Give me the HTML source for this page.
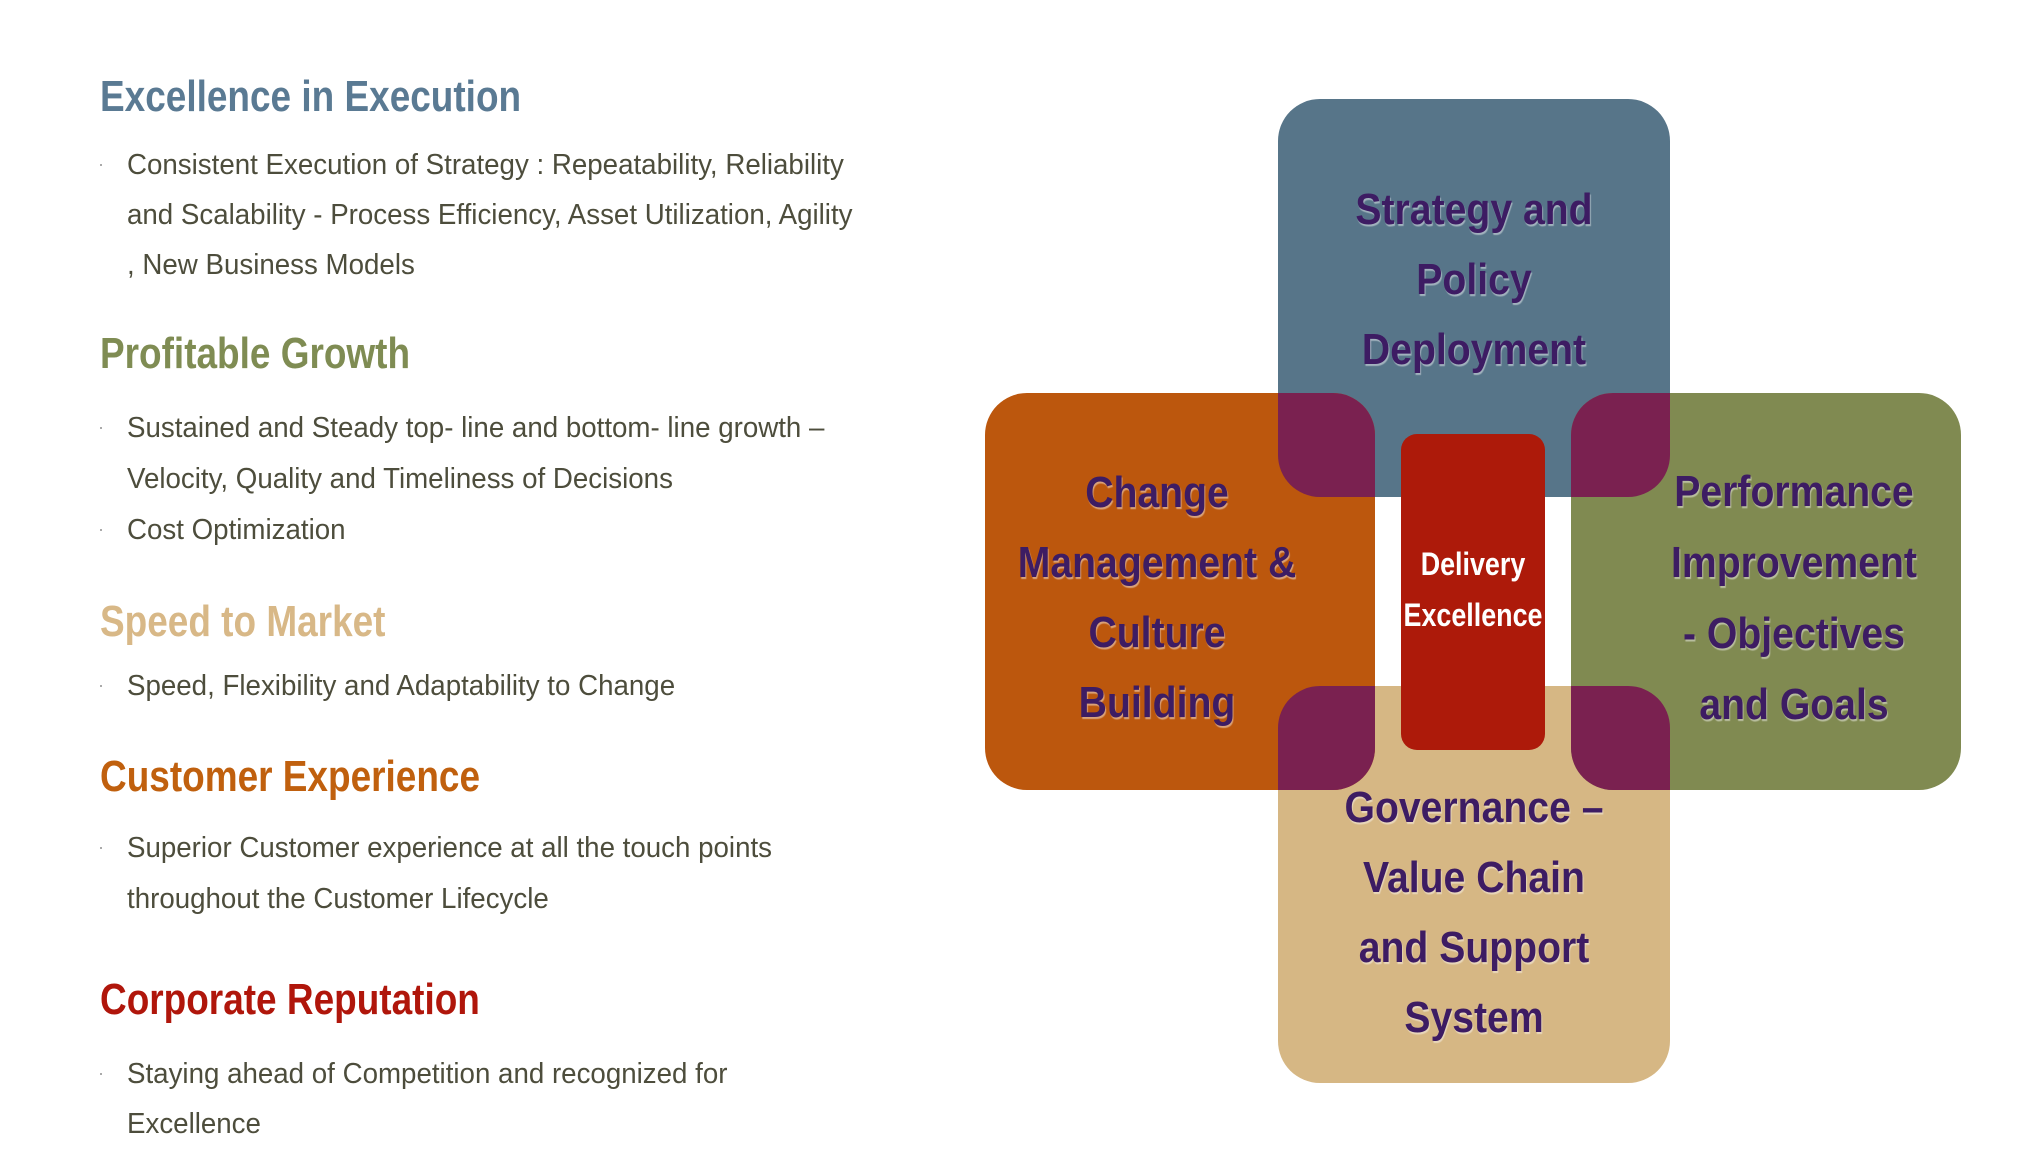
<!DOCTYPE html>
<html><head><meta charset="utf-8"><style>
html,body{margin:0;padding:0;background:#fff;}
body{width:2037px;height:1172px;position:relative;overflow:hidden;font-family:"Liberation Sans",sans-serif;}
.t{position:absolute;white-space:nowrap;transform-origin:0 50%;}
.h{font-weight:bold;font-size:44px;line-height:50px;left:100px;transform:scaleX(0.84);}
.b{font-size:29px;line-height:40px;left:127px;color:#4d4d3c;transform:scaleX(0.955);}
.dot{position:absolute;left:100px;width:2px;height:2px;background:#aaa;}
.bx{position:absolute;text-align:center;font-weight:bold;font-size:44px;line-height:50px;color:#3d1c63;text-shadow:1px 2px 1px rgba(255,255,255,0.45);white-space:nowrap;transform:translateX(-50%) scaleX(0.89);}
</style></head><body>
<svg width="2037" height="1172" style="position:absolute;left:0;top:0">
<defs>
<clipPath id="ct"><rect x="1278" y="99" width="392" height="398" rx="42"/></clipPath>
<clipPath id="cb"><rect x="1278" y="686" width="392" height="397" rx="42"/></clipPath>
</defs>
<rect x="1278" y="99" width="392" height="398" rx="42" fill="#577589"/>
<rect x="1278" y="686" width="392" height="397" rx="42" fill="#d6b784"/>
<rect x="985" y="393" width="390" height="397" rx="42" fill="#bc570d"/>
<rect x="1571" y="393" width="390" height="397" rx="42" fill="#808a51"/>
<g clip-path="url(#ct)">
<rect x="985" y="393" width="390" height="397" rx="42" fill="#7a2150"/>
<rect x="1571" y="393" width="390" height="397" rx="42" fill="#7a2150"/>
</g>
<g clip-path="url(#cb)">
<rect x="985" y="393" width="390" height="397" rx="42" fill="#7a2150"/>
<rect x="1571" y="393" width="390" height="397" rx="42" fill="#7a2150"/>
</g>
<rect x="1401" y="434" width="144" height="316" rx="16" fill="#ad1a0a"/>
</svg>

<div class="t h" style="top:72px;color:#5a7a93">Excellence in Execution</div>
<div class="dot" style="top:164px"></div>
<div class="t b" style="top:145px">Consistent Execution of Strategy : Repeatability, Reliability</div>
<div class="t b" style="top:195px">and Scalability  -  Process Efficiency, Asset Utilization,  Agility</div>
<div class="t b" style="top:245px">, New Business Models</div>

<div class="t h" style="top:329px;color:#7f8c53">Profitable Growth</div>
<div class="dot" style="top:427px"></div>
<div class="t b" style="top:408px">Sustained and Steady top- line and bottom- line growth –</div>
<div class="t b" style="top:459px">Velocity, Quality and Timeliness of Decisions</div>
<div class="dot" style="top:529px"></div>
<div class="t b" style="top:510px">Cost Optimization</div>

<div class="t h" style="top:597px;color:#d8b887">Speed to Market</div>
<div class="dot" style="top:685px"></div>
<div class="t b" style="top:666px">Speed, Flexibility and Adaptability to Change</div>

<div class="t h" style="top:752px;color:#c0600e">Customer Experience</div>
<div class="dot" style="top:847px"></div>
<div class="t b" style="top:828px">Superior Customer experience at all the touch points</div>
<div class="t b" style="top:879px">throughout the Customer Lifecycle</div>

<div class="t h" style="top:975px;color:#b0160b">Corporate Reputation</div>
<div class="dot" style="top:1073px"></div>
<div class="t b" style="top:1054px">Staying ahead of Competition and recognized for</div>
<div class="t b" style="top:1104px">Excellence</div>

<div class="bx" style="left:1474px;top:175px;line-height:70px">Strategy and<br>Policy<br>Deployment</div>
<div class="bx" style="left:1157px;top:458px;line-height:70px">Change<br>Management &amp;<br>Culture<br>Building</div>
<div class="bx" style="left:1794px;top:456px;line-height:71px">Performance<br>Improvement<br>- Objectives<br>and Goals</div>
<div class="bx" style="left:1474px;top:773px;line-height:70px">Governance –<br>Value Chain<br>and Support<br>System</div>
<div class="bx" style="left:1473px;top:539px;color:#fff;font-size:32px;line-height:51px;text-shadow:none;transform:translateX(-50%) scaleX(0.84)">Delivery<br>Excellence</div>
</body></html>
